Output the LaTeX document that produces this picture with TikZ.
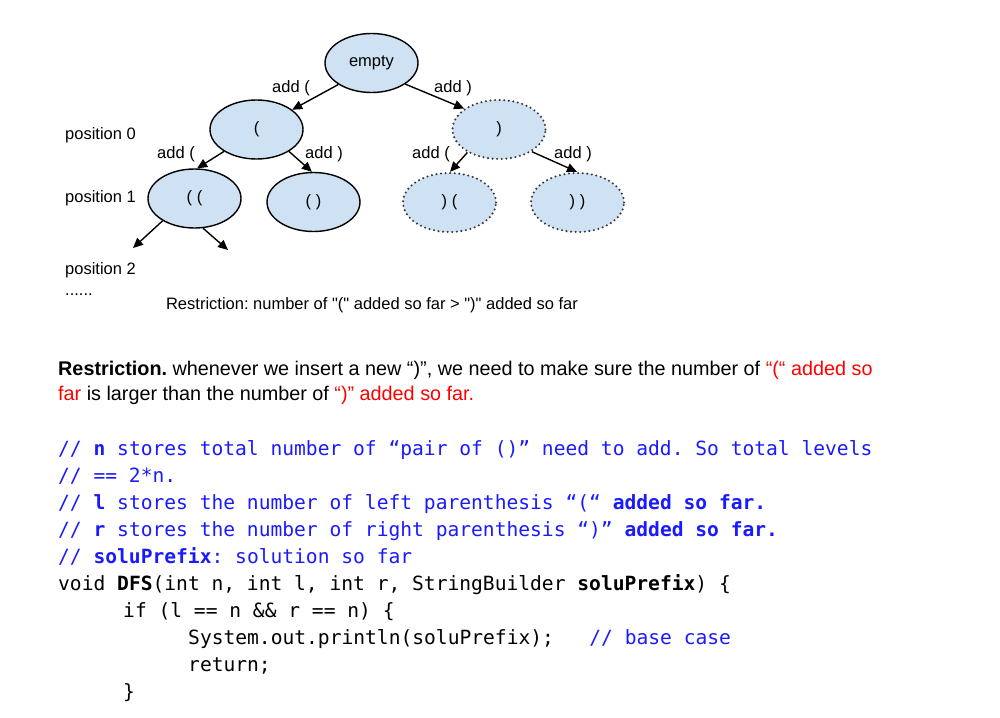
\documentclass[tikz,border=0pt]{standalone}
\usepackage{fontspec}
\usetikzlibrary{shapes.geometric, arrows.meta}

\newfontfamily\diagfont[Ligatures=TeXOff]{Liberation Sans}
\newfontfamily\codefont{DejaVu Sans Mono}
\frenchspacing

\definecolor{nodeblue}{HTML}{CFE2F3}
\definecolor{codeblue}{HTML}{1A1AFF}
\definecolor{dotgray}{HTML}{3A3A3A}

\begin{document}
\begin{tikzpicture}[
    x=1pt, y=-1pt,
    solidnode/.style={ellipse, draw=black, line width=1.4pt, fill=nodeblue, minimum width=93pt, minimum height=59pt, inner sep=0pt, font=\diagfont\fontsize{16.5}{20}\selectfont},
    dotnode/.style={ellipse, draw=dotgray, line width=2.3pt, dash pattern=on 0pt off 4.6pt, line cap=round, fill=nodeblue, minimum width=93pt, minimum height=59pt, inner sep=0pt, font=\diagfont\fontsize{16.5}{20}\selectfont},
    edge/.style={-{Triangle[length=10pt, width=9pt]}, line width=1.4pt},
    lbl/.style={inner sep=0pt, font=\diagfont\fontsize{16.5}{20}\selectfont},
    para/.style={anchor=base west, inner sep=0pt, font=\diagfont\fontsize{19.8}{25}\selectfont},
    code/.style={anchor=base west, inner sep=0pt, font=\codefont\fontsize{19.6}{24}\selectfont},
]

    \useasboundingbox (0,0) rectangle (1000,717);

    % solid nodes (allowed prefixes)
    \foreach \name/\x/\y/\txt in {
    empty/371.5/63/{empty},
    lp/256.5/129.5/{(},
    ll/194.5/198.5/{( (},
    lr/313.5/202/{( )}}
    {
        \node [solidnode] (\name) at (\x, \y) {\txt};
    }

    % dotted nodes (not allowed prefixes)
    \foreach \name/\x/\y/\txt in {
    rp/499/129.5/{)},
    rl/449.5/202.5/{) (},
    rr/577.5/202.5/{) )}}
    {
        \node [dotnode] (\name) at (\x, \y) {\txt};
    }

    % arrows between nodes
    % from/fa: start node and border angle
    % to/ta:   end node and border angle
    \foreach \from/\fa/\to/\ta in {
    empty/213/lp/29,
    empty/-32/rp/149,
    lp/214/ll/85,
    lp/-34/lr/93,
    rp/216/rl/89,
    rp/-34/rr/91}
    {
        \draw [edge] (\from.\fa) -- (\to.\ta) ;
    }

    % open arrows below ( (
    \coordinate (llout1) at (133, 248);
    \coordinate (llout2) at (228, 250);
    \draw [edge] (ll.215) -- (llout1) ;
    \draw [edge] (ll.-74) -- (llout2) ;

    % arrow labels
    \foreach \name/\x/\y/\txt in {
    addA/291/88/{add (},
    addB/453/88/{add )},
    addC/176/154/{add (},
    addD/324/154/{add )},
    addE/431/154/{add (},
    addF/573/154/{add )}}
    {
        \node [lbl] (\name) at (\x, \y) {\txt};
    }

    % level labels
    \foreach \i/\y in {0/135, 1/198, 2/270}
    {
        \node [lbl, anchor=west] (pos\i) at (65, \y) {position \i};
    }
    \node [lbl, anchor=base west] (posdots) at (65, 295) {......};

    \node [lbl] (rule) at (372, 305) {Restriction: number of "(" added so far > ")" added so far};

    % paragraph
    \node [para] (paraA) at (58, 375) {\textbf{Restriction.} whenever we insert a new “)”, we need to make sure the number of \textcolor{red}{“(“ added so}};
    \node [para] (paraB) at (58, 400) {\textcolor{red}{far} is larger than the number of \textcolor{red}{“)” added so far.}};

    % code lines
    \node [code, text=codeblue] (codeA) at (58, 455) {// \textbf{n} stores total number of “pair of ()” need to add. So total levels};
    \node [code, text=codeblue] (codeB) at (58, 482.1) {// == 2*n.};
    \node [code, text=codeblue] (codeC) at (58, 509.2) {// \textbf{l} stores the number of left parenthesis “(“ \textbf{added so far.}};
    \node [code, text=codeblue] (codeD) at (58, 536.3) {// \textbf{r} stores the number of right parenthesis “)” \textbf{added so far.}};
    \node [code, text=codeblue] (codeE) at (58, 563.4) {// \textbf{soluPrefix}: solution so far};
    \node [code] (codeF) at (58, 590.5) {void \textbf{DFS}(int n, int l, int r, StringBuilder \textbf{soluPrefix}) \{};
    \node [code] (codeG) at (123, 617.6) {if (l == n \&\& r == n) \{};
    \node [code] (codeH) at (188, 644.7) {System.out.println(soluPrefix);\ \ \ \textcolor{codeblue}{// base case}};
    \node [code] (codeI) at (188, 671.8) {return;};
    \node [code] (codeJ) at (123, 698.9) {\}};

\end{tikzpicture}
\end{document}
